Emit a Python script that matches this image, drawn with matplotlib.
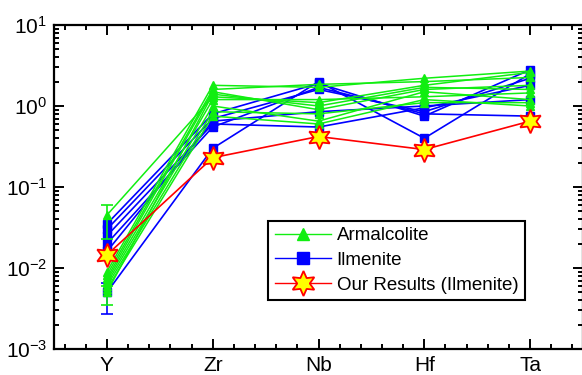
import numpy as np
import matplotlib.pyplot as plt
from matplotlib.ticker import FixedLocator, LogLocator, NullFormatter

plt.rcParams['font.family'] = ['Liberation Sans', 'DejaVu Sans']

elements = ["Y", "Zr", "Nb", "Hf", "Ta"]

# Armalcolite (green) samples: Y, Zr, Nb, Hf, Ta
armalcolite = [
    [0.045, 1.30, 1.10, 1.80, 2.60],
    [0.0090, 1.80, 1.70, 2.20, 2.70],
    [0.0082, 1.60, 1.85, 2.00, 2.25],
    [0.0075, 1.50, 0.90, 1.60, 1.80],
    [0.0070, 1.20, 1.20, 1.30, 1.45],
    [0.0065, 1.00, 0.65, 1.50, 1.20],
    [0.0060, 0.85, 0.80, 1.10, 1.10],
    [0.0055, 0.75, 0.60, 1.20, 1.00],
    [0.0050, 1.40, 1.00, 1.70, 1.60],
]
arm_err_lo = [0.022, 0.0, 0.0, 0.0, 0.0, 0.0, 0.0, 0.0, 0.0015]
arm_err_hi = [0.015, 0.0, 0.0, 0.0, 0.0, 0.0, 0.0, 0.0, 0.0010]

# Ilmenite (blue) samples
ilmenite = [
    [0.035, 0.80, 1.90, 0.75, 2.80],
    [0.030, 0.70, 1.60, 0.85, 2.20],
    [0.025, 0.60, 0.55, 0.95, 1.80],
    [0.020, 0.55, 1.70, 0.80, 0.75],
    [0.0050, 0.30, 2.00, 0.40, 2.50],
    [0.016, 0.65, 0.85, 1.00, 1.20],
]
ilm_err_lo = [0.0, 0.0, 0.0, 0.0, 0.0023, 0.0]
ilm_err_hi = [0.0, 0.0, 0.0, 0.0, 0.0015, 0.0]

# Our results (ilmenite)
ours = [0.0145, 0.23, 0.42, 0.29, 0.65]

x = np.arange(1, len(elements) + 1)

fig = plt.figure(figsize=(5.82, 3.75), dpi=100)
ax = fig.add_axes([54 / 582, 1 - 349 / 375, 529 / 582, 324 / 375])

for row, lo, hi in zip(ilmenite, ilm_err_lo, ilm_err_hi):
    ax.plot(x, row, color="#0000ff", lw=1.2, marker="s", ms=6, mec="#0000ff", mfc="#0000ff", zorder=2)
    if lo > 0:
        ax.errorbar(x[0], row[0], yerr=[[lo], [hi]], color="#0000ff", lw=1.2, capsize=4, capthick=1.2, zorder=2)

for row, lo, hi in zip(armalcolite, arm_err_lo, arm_err_hi):
    ax.plot(x, row, color="#11ee11", lw=1.1, marker="^", ms=6, mec="#11ee11", mfc="#11ee11", zorder=3)
    if lo > 0:
        ax.errorbar(x[0], row[0], yerr=[[lo], [hi]], color="#11ee11", lw=1.2, capsize=4, capthick=1.2, zorder=3)

ax.plot(x, ours, color="#ff0000", lw=1.2, marker=(6, 1, 0), ms=17, mfc="#ffff00", mec="#ff0000", mew=1.3, zorder=4)

ax.set_yscale("log")
ax.set_ylim(1e-3, 1e1)
ax.set_xlim(0.5, 5.5)
ax.set_xticks(x)
ax.set_xticklabels(elements)
ax.xaxis.set_minor_locator(FixedLocator(np.arange(0.6, 5.5, 0.2)))
ax.yaxis.set_major_locator(LogLocator(base=10, numticks=10))
ax.yaxis.set_minor_locator(LogLocator(base=10, subs=np.arange(2, 10), numticks=10))
ax.yaxis.set_minor_formatter(NullFormatter())

ax.tick_params(which="both", direction="in", top=True, right=True, width=1.4, labelsize=15, pad=5)
ax.tick_params(which="major", length=7)
ax.tick_params(which="minor", length=3.5)
for s in ax.spines.values():
    s.set_linewidth(1.6)

h1, = ax.plot([], [], color="#11ee11", lw=1.0, marker="^", ms=9, mfc="#11ee11", mec="#11ee11")
h2, = ax.plot([], [], color="#0000ff", lw=1.0, marker="s", ms=8, mfc="#0000ff", mec="#0000ff")
h3, = ax.plot([], [], color="#ff0000", lw=1.0, marker=(6, 1, 0), ms=18, mfc="#ffff00", mec="#ff0000", mew=1.3)
leg = ax.legend([h1, h2, h3], ["Armalcolite", "Ilmenite", "Our Results (Ilmenite)"],
                loc="lower left", bbox_to_anchor=(0.405, 0.151), fontsize=13.5,
                handlelength=3.0, handletextpad=0.3, labelspacing=0.4,
                borderpad=0.35, borderaxespad=0, fancybox=False, framealpha=1, edgecolor="black")
leg.get_frame().set_linewidth(1.5)

fig.savefig("out.png", dpi=100)
